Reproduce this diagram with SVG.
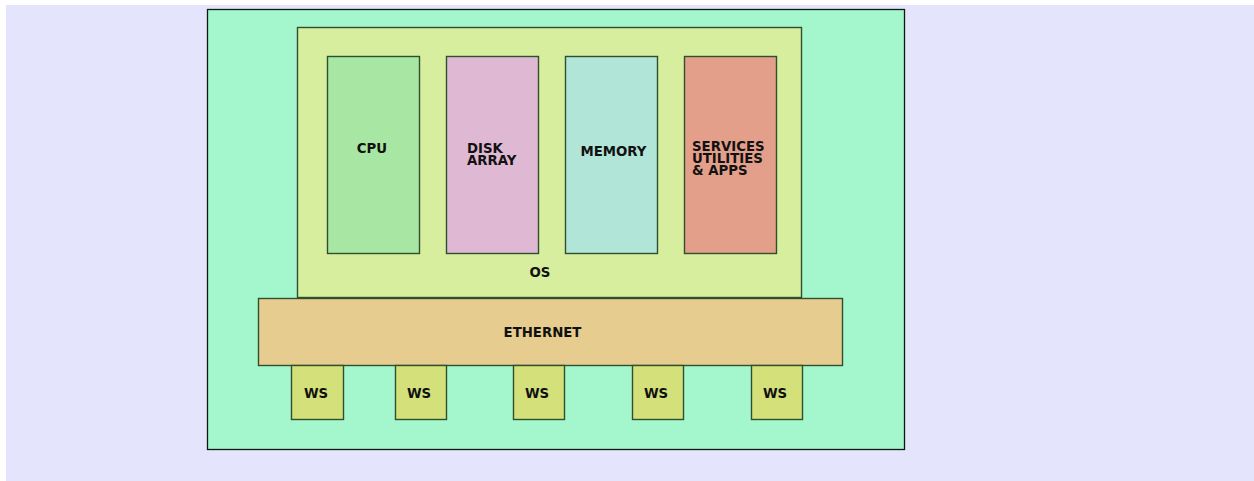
<svg xmlns="http://www.w3.org/2000/svg" width="1254" height="481" viewBox="0 0 1254 481">
<style>
.box{stroke:#2f4f2f;stroke-width:1.4}
.t{font-family:"DejaVu Sans",sans-serif;font-weight:bold;font-size:13.3px;fill:#111}
.c{text-anchor:middle}
</style>
<rect x="0" y="0" width="1254" height="481" fill="#ffffff"/>
<rect x="6" y="5" width="1248" height="476" fill="#e4e4fc"/>
<g id="system">
<rect x="207.5" y="9.5" width="697" height="440" fill="#a4f7cc" stroke="#0d1a0d" stroke-width="1.3"/>
</g>
<g id="os">
<rect class="box" x="297.5" y="27.5" width="504" height="270" fill="#d6ee9e"/>
<text class="t c" x="540" y="277">OS</text>
</g>
<g id="cpu">
<rect class="box" x="327.5" y="56.5" width="92" height="197" fill="#a8e6a3"/>
<text class="t c" x="372" y="153">CPU</text>
</g>
<g id="disk">
<rect class="box" x="446.5" y="56.5" width="92" height="197" fill="#dfb8d3"/>
<text class="t" x="467" y="153">DISK<tspan x="467" dy="12.3">ARRAY</tspan></text>
</g>
<g id="memory">
<rect class="box" x="565.5" y="56.5" width="92" height="197" fill="#b0e5d8"/>
<text class="t c" x="613.5" y="156">MEMORY</text>
</g>
<g id="services">
<rect class="box" x="684.5" y="56.5" width="92" height="197" fill="#e39f8a"/>
<text class="t" x="692" y="151">SERVICES<tspan x="692" dy="11.9">UTILITIES</tspan><tspan x="692" dy="11.9">&amp; APPS</tspan></text>
</g>
<g id="ethernet">
<rect class="box" x="258.5" y="298.5" width="584" height="67" fill="#e6cc8e"/>
<text class="t c" x="542.5" y="337">ETHERNET</text>
</g>
<g id="ws1">
<rect class="box" x="291.5" y="365.5" width="52" height="54" fill="#d4e07a"/>
<text class="t c" x="316" y="398">WS</text>
</g>
<g id="ws2">
<rect class="box" x="395.5" y="365.5" width="51" height="54" fill="#d4e07a"/>
<text class="t c" x="419" y="398">WS</text>
</g>
<g id="ws3">
<rect class="box" x="513.5" y="365.5" width="51" height="54" fill="#d4e07a"/>
<text class="t c" x="537" y="398">WS</text>
</g>
<g id="ws4">
<rect class="box" x="632.5" y="365.5" width="51" height="54" fill="#d4e07a"/>
<text class="t c" x="656" y="398">WS</text>
</g>
<g id="ws5">
<rect class="box" x="751.5" y="365.5" width="51" height="54" fill="#d4e07a"/>
<text class="t c" x="775" y="398">WS</text>
</g>
<g id="connectors"></g>
</svg>
